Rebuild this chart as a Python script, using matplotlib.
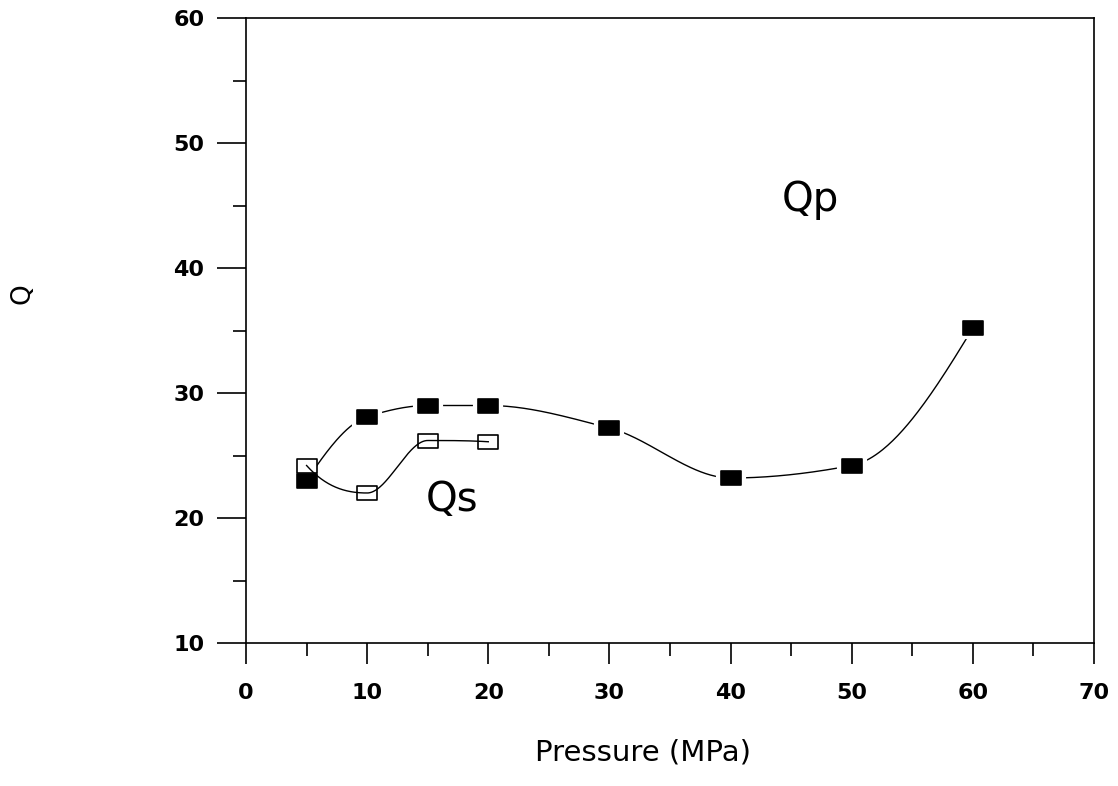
import numpy as np
import matplotlib
matplotlib.use("Agg")
import matplotlib.pyplot as plt
from matplotlib.path import Path
from matplotlib.ticker import MultipleLocator

# Quality factors versus confining pressure
pressure_p = [5, 10, 15, 20, 30, 40, 50, 60]
qp_values = [23.0, 28.1, 29.0, 29.0, 27.2, 23.2, 24.2, 35.2]

pressure_s = [5, 10, 15, 20]
qs_values = [24.2, 22.0, 26.2, 26.1]

x_ticks = [0, 10, 20, 30, 40, 50, 60, 70]
y_ticks = [10, 20, 30, 40, 50, 60]


def smooth_curve(x, y, n=400):
    """Shape-preserving cubic Hermite (PCHIP) curve through (x, y)."""
    x = np.asarray(x, float)
    y = np.asarray(y, float)
    h = np.diff(x)
    delta = np.diff(y) / h
    m = len(x)
    d = np.zeros(m)
    for k in range(1, m - 1):
        if delta[k - 1] * delta[k] > 0:
            w1 = 2 * h[k] + h[k - 1]
            w2 = h[k] + 2 * h[k - 1]
            d[k] = (w1 + w2) / (w1 / delta[k - 1] + w2 / delta[k])
    # end slopes
    for k, (hk0, hk1, dl0, dl1) in ((0, (h[0], h[1], delta[0], delta[1])),
                                    (m - 1, (h[-1], h[-2], delta[-1], delta[-2]))):
        s = ((2 * hk0 + hk1) * dl0 - hk0 * dl1) / (hk0 + hk1)
        if np.sign(s) != np.sign(dl0):
            s = 0.0
        elif np.sign(dl0) != np.sign(dl1) and abs(s) > abs(3 * dl0):
            s = 3 * dl0
        d[k] = s
    xs = np.linspace(x[0], x[-1], n)
    idx = np.clip(np.searchsorted(x, xs) - 1, 0, m - 2)
    t = (xs - x[idx]) / h[idx]
    h00 = 2 * t ** 3 - 3 * t ** 2 + 1
    h10 = t ** 3 - 2 * t ** 2 + t
    h01 = -2 * t ** 3 + 3 * t ** 2
    h11 = t ** 3 - t ** 2
    ys = (h00 * y[idx] + h10 * h[idx] * d[idx]
          + h01 * y[idx + 1] + h11 * h[idx] * d[idx + 1])
    return xs, ys


# flat rectangular marker (wider than tall)
rect = Path([(-0.5, -0.35), (0.5, -0.35), (0.5, 0.35), (-0.5, 0.35), (-0.5, -0.35)],
            [Path.MOVETO, Path.LINETO, Path.LINETO, Path.LINETO, Path.CLOSEPOLY])

fig = plt.figure(figsize=(11.18, 7.86), dpi=100)
ax = fig.add_axes([246 / 1118, 143 / 786, 848 / 1118, 625 / 786])

xs, ys = smooth_curve(pressure_p, qp_values)
ax.plot(xs, ys, color="black", lw=1.0, zorder=2)
# white halo so the curve stops short of the solid markers
ax.plot(pressure_p, qp_values, ls="none", marker=rect, ms=19, mfc="white",
        mec="white", mew=3, zorder=3)
ax.plot(pressure_p, qp_values, ls="none", marker=rect, ms=15, mfc="black",
        mec="black", mew=1.2, zorder=4)

xs, ys = smooth_curve(pressure_s, qs_values)
ax.plot(xs, ys, color="black", lw=1.0, zorder=5)
ax.plot(pressure_s, qs_values, ls="none", marker=rect, ms=15, mfc="white",
        mec="black", mew=1.2, zorder=4.5)

ax.text(46.6, 45.4, "Qp", fontsize=29, ha="center", va="center")
ax.text(17.0, 21.4, "Qs", fontsize=29, ha="center", va="center")

ax.set_xlim(0, 70)
ax.set_ylim(10, 60)
ax.set_xticks(x_ticks)
ax.set_yticks(y_ticks)
ax.xaxis.set_minor_locator(MultipleLocator(5))
ax.yaxis.set_minor_locator(MultipleLocator(5))
ax.tick_params(axis="x", which="major", direction="out", length=15, width=1.2,
               pad=14, labelsize=16)
ax.tick_params(axis="x", which="minor", direction="out", length=9.5, width=1.2)
ax.tick_params(axis="y", which="major", direction="out", length=21, width=1.2,
               pad=9, labelsize=16)
ax.tick_params(axis="y", which="minor", direction="out", length=9.5, width=1.2)
for lbl in ax.get_xticklabels() + ax.get_yticklabels():
    lbl.set_fontweight("bold")
for sp in ax.spines.values():
    sp.set_linewidth(1.2)

fig.text(643 / 1118, 1 - 753 / 786, "Pressure (MPa)", fontsize=21,
         ha="center", va="center")
fig.text(22 / 1118, 1 - 294 / 786, "Q", fontsize=19, rotation=90,
         ha="center", va="center")

fig.savefig("out.png", dpi=100)
